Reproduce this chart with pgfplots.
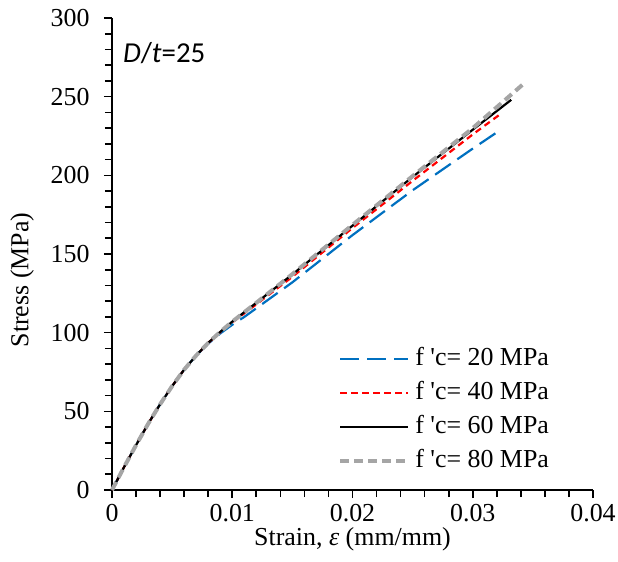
\documentclass[border=0pt]{standalone}
\usepackage{fontspec}
\setmainfont{Liberation Serif}
\newfontfamily\calib{Carlito}
\usepackage{pgfplots}
\pgfplotsset{compat=1.18}
\definecolor{cblue}{RGB}{0,112,192}
\definecolor{cred}{RGB}{255,0,0}
\definecolor{cgrey}{RGB}{165,165,165}
% straight apostrophe, not turned into a closing quote
\newcommand{\sq}{{\addfontfeature{Ligatures=TeXOff}'}}

\begin{document}
\begin{tikzpicture}
\useasboundingbox (-112bp,-72bp) rectangle (506bp,490bp);
\begin{axis}[
  scale only axis, width=481bp, height=472bp,
  xmin=0, xmax=0.04, ymin=0, ymax=300,
  axis x line*=bottom, axis y line*=left,
  axis line style={line width=1.6bp, black},
  xtick={0,0.01,0.02,0.03,0.04}, xticklabels={0,0.01,0.02,0.03,0.04},
  scaled x ticks=false,
  ytick={0,50,...,300},
  minor x tick num=4, minor y tick num=4,
  tick align=outside, major tick length=8bp, minor tick length=7bp,
  tick style={line width=1.6bp, black},
  /pgf/number format/assume math mode=true,
  tick label style={font=\fontsize{26}{30}\selectfont},
  yticklabel style={xshift=-11bp},
  xticklabel style={yshift=-3bp},
  label style={font=\fontsize{26}{30}\selectfont},
  xlabel={Strain, \textit{ε} (mm/mm)},
  ylabel={Stress (MPa)},
  xlabel style={at={(axis description cs:0.5,-0.1045)}, anchor=center},
  ylabel style={at={(axis description cs:-0.187,0.445)}, anchor=center},
  clip=false,
  legend image code/.code={\draw[#1] (0bp,0bp) -- (68bp,0bp);},
  legend cell align=left,
  legend style={draw=none, fill=none, inner sep=0pt,
    at={(axis cs:0.01880,90.5)}, anchor=north west,
    font=\fontsize{26}{30}\selectfont,
    row sep=11bp,
    nodes={inner sep=0pt, text height=18bp, text depth=5bp},
    /tikz/every odd column/.style={column sep=5bp}},
]
% f'c = 20 MPa
\addplot[cblue, line width=2.2bp, dash pattern=on 19bp off 8bp] coordinates {
  (0,0) (0.001,14.5) (0.002,28.5) (0.003,42) (0.004,54.5) (0.005,66)
  (0.006,76.5) (0.007,85.5) (0.008,93) (0.009,99.5) (0.010,105)
  (0.011,110) (0.012,115.5) (0.015,132) (0.020,162) (0.025,190.5)
  (0.030,217) (0.0321,227.8)};
\addlegendentry{f \sq c= 20 MPa}
% f'c = 40 MPa
\addplot[cred, line width=2.2bp, dash pattern=on 6.5bp off 4.5bp] coordinates {
  (0,0) (0.001,14.5) (0.002,28.5) (0.003,42) (0.004,54.5) (0.005,66)
  (0.006,76.5) (0.007,85.5) (0.008,93.5) (0.009,100.3) (0.010,106.5)
  (0.011,112.3) (0.012,118) (0.015,135.5) (0.020,166.5) (0.025,196.5)
  (0.030,226) (0.0324,239.5)};
\addlegendentry{f \sq c= 40 MPa}
% f'c = 60 MPa
\addplot[black, line width=2.2bp] coordinates {
  (0,0) (0.001,14.5) (0.002,28.5) (0.003,42) (0.004,54.5) (0.005,66)
  (0.006,76.5) (0.007,85.5) (0.008,93.5) (0.009,100.5) (0.010,107)
  (0.011,113) (0.012,119) (0.015,137) (0.020,168) (0.025,199)
  (0.030,229) (0.0332,248)};
\addlegendentry{f \sq c= 60 MPa}
% f'c = 80 MPa
\addplot[cgrey, line width=4bp, dash pattern=on 9bp off 5bp] coordinates {
  (0,0) (0.001,14.5) (0.002,28.5) (0.003,42) (0.004,54.5) (0.005,66)
  (0.006,76.5) (0.007,85.5) (0.008,93.5) (0.009,100.5) (0.010,107)
  (0.011,113) (0.012,119) (0.015,137.2) (0.020,168.5) (0.025,199.5)
  (0.030,230) (0.0342,258)};
\addlegendentry{f \sq c= 80 MPa}
\node[anchor=base west, inner sep=0pt, font=\calib\fontsize{29}{34}\selectfont]
  at (axis cs:0.0009,272) {\textit{D}/\textit{t}=25};
\end{axis}
\end{tikzpicture}
\end{document}
